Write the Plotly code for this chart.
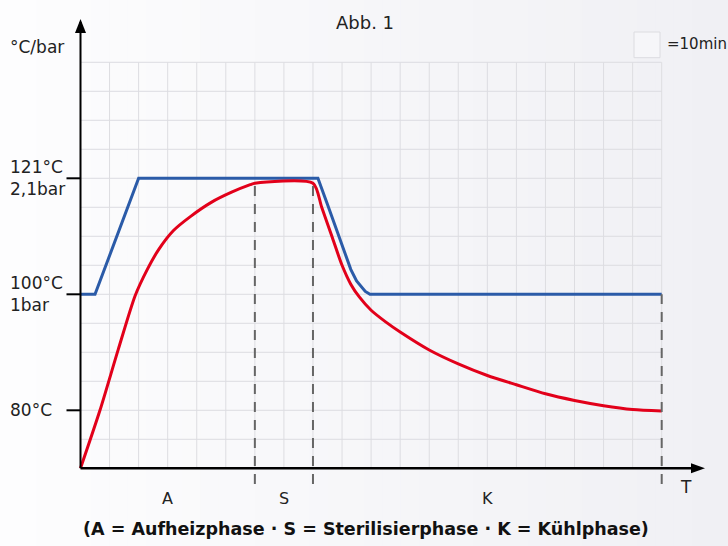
import plotly.graph_objects as go

# ---------------- data (time in min, temperature in °C, schematic) ----------------
blue_t = [0, 5, 20, 81.7, 85, 89, 91, 93, 95, 96.5, 98, 99.6, 200]
blue_T = [100, 100, 120, 120, 115.5, 110, 107.2, 104.3, 102.3, 101.3, 100.5, 100, 100]

red_t = [0, 6.7, 13, 18.8, 23, 27, 32, 37.8, 45, 52, 58.4, 60, 80,
         83, 86.5, 90, 93, 96, 100, 105, 110, 120, 130, 140, 150,
         160, 170, 180, 190, 200]
red_T = [70, 80, 90.5, 99.75, 104.3, 107.8, 111, 113.4, 115.85, 117.6, 118.9,
         119.15, 119.15, 115, 110, 105, 101.75, 99.5, 97.25, 95.25, 93.5,
         90.4, 88, 86, 84.4, 82.85, 81.7, 80.8, 80.15, 79.9]

phase_bounds = [60, 80, 200]
phase_labels = ["A", "S", "K"]
phase_centers = [30, 70, 140]

tick_T = [80, 100, 120]
tick_text = ["80°C", "100°C<br>1bar", "121°C<br>2,1bar"]

grid_t = list(range(10, 201, 10))
grid_T = list(range(75, 141, 5))

# ---------------- geometry helpers ----------------
W, H = 728, 546
X0PX, Y0PX = 80.5, 468.3      # pixel of t=0, T=70
PX_MIN, PX_DEG = 2.906, 5.8
T_BASE = 70


def px2t(px):
    return (px - X0PX) / PX_MIN


def px2T(py):
    return T_BASE + (Y0PX - py) / PX_DEG


FONT = "DejaVu Sans"
BLUE = "#2b5ba8"
RED = "#e2001a"
GRID = "#dddde1"
TXT = "#222222"

fig = go.Figure()
fig.add_trace(go.Scatter(x=blue_t, y=blue_T, mode="lines",
                         line=dict(color=BLUE, width=3), hoverinfo="skip"))
fig.add_trace(go.Scatter(x=red_t, y=red_T, mode="lines",
                         line=dict(color=RED, width=3, shape="spline", smoothing=0.7),
                         hoverinfo="skip"))

shapes = []
# background gradient strips
n = 40
for i in range(n):
    f = i / (n - 1)
    c = (int(round(253 - 13 * f)), int(round(253 - 13 * f)), int(round(254 - 10 * f)))
    shapes.append(dict(type="rect", xref="paper", yref="paper", x0=i / n, x1=(i + 1) / n + 0.002,
                       y0=0, y1=1, line=dict(width=0), fillcolor="rgb(%d,%d,%d)" % c,
                       layer="below"))
# grid
for t in grid_t:
    shapes.append(dict(type="line", x0=t, x1=t, y0=T_BASE, y1=grid_T[-1],
                       line=dict(color=GRID, width=1), layer="below"))
for T in grid_T:
    shapes.append(dict(type="line", x0=0, x1=grid_t[-1], y0=T, y1=T,
                       line=dict(color=GRID, width=1), layer="below"))

# dashed phase lines
red_map = dict(zip(red_t, red_T))
blue_map = dict(zip(blue_t, blue_T))
for b in phase_bounds:
    top = blue_map[b] if b == phase_bounds[-1] else red_map[b]
    shapes.append(dict(type="line", x0=b, x1=b, y0=px2T(484), y1=top,
                       line=dict(color="#666666", width=2, dash="10px,8px"), layer="above"))

# axes
x_tip, y_tip = px2t(705), px2T(19)
shapes.append(dict(type="line", x0=0, x1=x_tip - 3, y0=T_BASE, y1=T_BASE,
                   line=dict(color="black", width=2.5)))
shapes.append(dict(type="line", x0=0, x1=0, y0=T_BASE, y1=y_tip - 0.5,
                   line=dict(color="black", width=2)))
shapes.append(dict(type="path", xsizemode="pixel", ysizemode="pixel", xanchor=x_tip, yanchor=T_BASE,
                   path="M -14,-5 L -14,5 L 0,0 Z", fillcolor="black", line=dict(width=0)))
shapes.append(dict(type="path", xsizemode="pixel", ysizemode="pixel", xanchor=0, yanchor=y_tip,
                   path="M -5.5,-14 L 5.5,-14 L 0,0 Z", fillcolor="black", line=dict(width=0)))
for T in tick_T:
    shapes.append(dict(type="line", xsizemode="pixel", xanchor=0, x0=-14, x1=0, y0=T, y1=T,
                       line=dict(color="black", width=2)))

# legend square
shapes.append(dict(type="rect", x0=px2t(634), x1=px2t(660), y0=px2T(57.7), y1=px2T(32),
                   line=dict(color="#dcdce0", width=1), fillcolor="rgba(246,246,249,1)"))

ann = []
for T, txt in zip(tick_T, tick_text):
    ann.append(dict(x=px2t(8), y=T, text=txt, showarrow=False, xanchor="left",
                    yanchor="middle", align="left", font=dict(family=FONT, size=17, color=TXT)))
ann.append(dict(x=px2t(8), y=px2T(46.5), text="°C/bar", showarrow=False, xanchor="left",
                yanchor="middle", font=dict(family=FONT, size=17, color=TXT)))
ann.append(dict(x=px2t(365), y=px2T(22.5), text="Abb. 1", showarrow=False, xanchor="center",
                yanchor="middle", font=dict(family=FONT, size=18, color=TXT)))
ann.append(dict(x=px2t(665), y=px2T(44), text="=10min", showarrow=False, xanchor="left",
                yanchor="middle", font=dict(family=FONT, size=15, color=TXT)))
for c, lab in zip(phase_centers, phase_labels):
    ann.append(dict(x=c, y=px2T(498), text=lab, showarrow=False, xanchor="center",
                    yanchor="middle", font=dict(family=FONT, size=16, color=TXT)))
ann.append(dict(x=px2t(686), y=px2T(487), text="T", showarrow=False, xanchor="center",
                yanchor="middle", font=dict(family=FONT, size=17, color=TXT)))
ann.append(dict(x=px2t(366), y=px2T(529), text="<b>(A = Aufheizphase · S = Sterilisierphase · K = Kühlphase)</b>",
                showarrow=False, xanchor="center", yanchor="middle",
                font=dict(family=FONT, size=17.5, color="#111111")))

fig.update_layout(
    width=W, height=H,
    margin=dict(l=0, r=0, t=0, b=0),
    paper_bgcolor="white", plot_bgcolor="rgba(0,0,0,0)",
    showlegend=False,
    xaxis=dict(range=[px2t(0), px2t(W)], visible=False, fixedrange=True),
    yaxis=dict(range=[px2T(H), px2T(0)], visible=False, fixedrange=True),
    shapes=shapes, annotations=ann,
)
fig.write_html("out.html", config={"displayModeBar": False},
               post_script="document.body.style.margin='0px';document.body.style.overflow='hidden';")
